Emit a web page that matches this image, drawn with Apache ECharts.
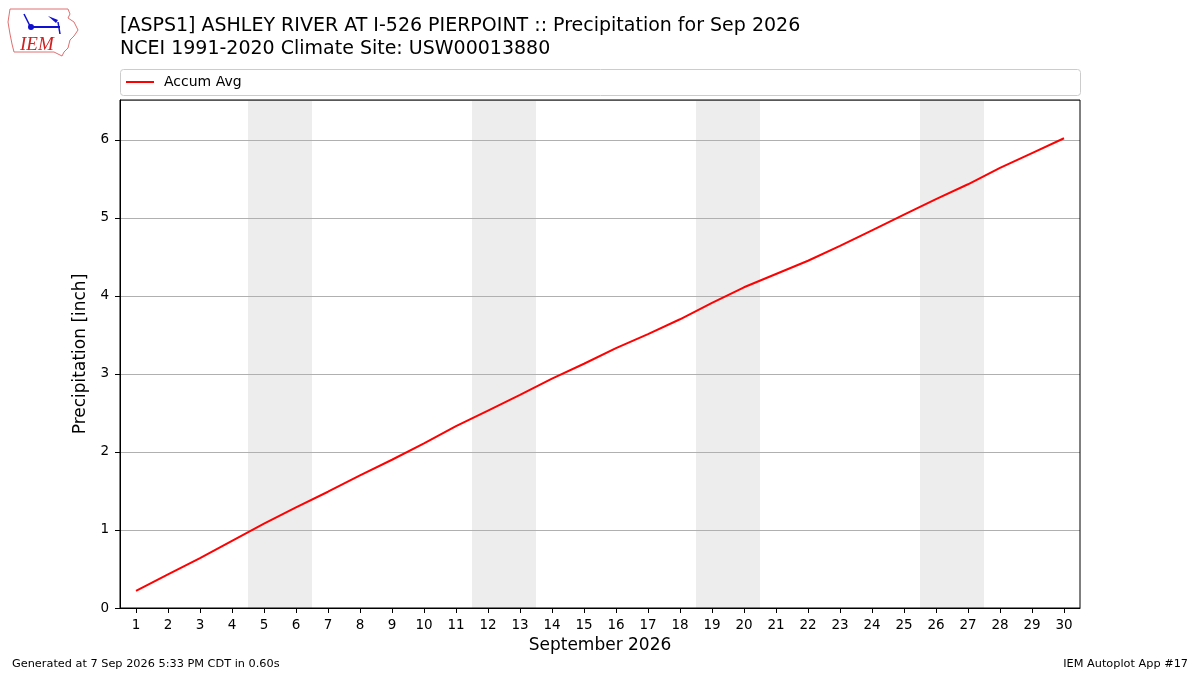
<!DOCTYPE html>
<html>
<head>
<meta charset="utf-8">
<script src="https://cdn.jsdelivr.net/npm/echarts@6/dist/echarts.min.js"></script>
<style>html,body{margin:0;padding:0;background:#fff}#c{width:1200px;height:675px}</style>
</head>
<body>
<div id="c"></div>
<script>
// ---- data ----
const days = [1,2,3,4,5,6,7,8,9,10,11,12,13,14,15,16,17,18,19,20,21,22,23,24,25,26,27,28,29,30];
const accumAvg = [0.22,0.43,0.64,0.86,1.08,1.29,1.49,1.70,1.90,2.11,2.33,2.53,2.73,2.94,3.13,3.33,3.51,3.70,3.91,4.11,4.28,4.45,4.64,4.84,5.04,5.24,5.43,5.64,5.83,6.02];
const weekendDays = [5,6,12,13,19,20,26,27];
const yTicks = [0,1,2,3,4,5,6];
const titleLines = ["[ASPS1] ASHLEY RIVER AT I-526 PIERPOINT :: Precipitation for Sep 2026", "NCEI 1991-2020 Climate Site: USW00013880"];

// weekend pairs -> shaded ranges
const shadeRanges = [];
for (let i = 0; i < weekendDays.length; i += 2) {
  shadeRanges.push([{xAxis: weekendDays[i] - 0.5}, {xAxis: weekendDays[i + 1] + 0.5}]);
}

const FONT = 'DejaVu Sans';
const chart = echarts.init(document.getElementById('c'), null, {renderer: 'canvas'});
chart.setOption({
  animation: false,
  backgroundColor: '#fff',
  textStyle: {fontFamily: FONT},
  title: {
    text: titleLines.join('\n'),
    left: 115, top: 10,
    textStyle: {fontFamily: FONT, fontSize: 19, fontWeight: 'normal', color: '#000', lineHeight: 23}
  },
  legend: {
    left: 121, top: 70,
    icon: 'rect', itemWidth: 28, itemHeight: 2, itemGap: 10,
    textStyle: {fontFamily: FONT, fontSize: 14, color: '#000', padding: [0, 0, 0, 5]},
    data: ['Accum Avg']
  },
  grid: {left: 120, right: 120, top: 100, bottom: 67, show: true, borderColor: '#000', borderWidth: 1, backgroundColor: 'transparent', z: 4},
  xAxis: [
    {
      type: 'category', data: days.map(String), boundaryGap: true, z: 3,
      name: 'September 2026', nameLocation: 'middle', nameGap: 29,
      nameTextStyle: {fontFamily: FONT, fontSize: 17, color: '#000'},
      axisLine: {show: true, lineStyle: {color: '#000'}},
      axisTick: {show: true, alignWithLabel: true, length: 5, lineStyle: {color: '#000'}},
      axisLabel: {fontFamily: FONT, fontSize: 13.5, color: '#000', margin: 10, interval: 0},
      splitLine: {show: false}
    },
    {type: 'value', min: 0.5, max: 30.5, show: false}
  ],
  yAxis: {
    type: 'value', min: 0, max: 6.51, interval: 1, z: 3,
    name: 'Precipitation [inch]', nameLocation: 'middle', nameGap: 24, nameRotate: 90,
    nameTextStyle: {fontFamily: FONT, fontSize: 17, color: '#000'},
    axisLine: {show: true, lineStyle: {color: '#000'}},
    axisTick: {show: true, length: 5, lineStyle: {color: '#000'}},
    axisLabel: {fontFamily: FONT, fontSize: 13.5, color: '#000', margin: 11, showMaxLabel: false,
      formatter: v => (yTicks.indexOf(v) >= 0 ? String(v) : '')},
    splitLine: {show: true, lineStyle: {color: '#b0b0b0', width: 1}}
  },
  series: [
    {
      name: 'weekend', type: 'line', xAxisIndex: 1, data: [], silent: true,
      markArea: {silent: true, itemStyle: {color: '#ededed'}, data: shadeRanges},
      z: 1
    },
    {
      name: 'Accum Avg', type: 'line', xAxisIndex: 0, data: accumAvg,
      symbol: 'none', lineStyle: {color: '#ff0000', width: 2}, itemStyle: {color: '#ff0000'},
      z: 5
    }
  ],
  graphic: [
    {type: 'rect', shape: {x: 120.5, y: 69.5, width: 960, height: 26, r: 3}, style: {fill: 'none', stroke: '#cccccc', lineWidth: 1}, z: -1},
    // logo (decorative)
    {type: 'polyline', shape: {points: [[10,9],[68,9],[70,14],[68,18],[74,22],[78,30],[74,36],[70,40],[68,48],[64,52],[62,56],[54,52],[14,52],[12,44],[10,34],[8,22],[10,9]]},
      style: {fill: 'none', stroke: '#e07070', lineWidth: 1}},
    {type: 'line', shape: {x1: 30, y1: 27, x2: 60, y2: 27}, style: {stroke: '#1010d0', lineWidth: 2}},
    {type: 'circle', shape: {cx: 31, cy: 27, r: 3}, style: {fill: '#1010d0'}},
    {type: 'line', shape: {x1: 24, y1: 14, x2: 30, y2: 26}, style: {stroke: '#1010d0', lineWidth: 1.5}},
    {type: 'polygon', shape: {points: [[48,16],[58,20],[56,23]]}, style: {fill: '#1010d0'}},
    {type: 'line', shape: {x1: 58, y1: 22, x2: 60, y2: 34}, style: {stroke: '#1010d0', lineWidth: 1.5}},
    {type: 'text', left: 20, top: 35, style: {text: 'IEM', font: 'italic 19px "Liberation Serif", serif', fill: '#d02020'}},
    // footer
    {type: 'text', left: 12, top: 659, style: {text: 'Generated at 7 Sep 2026 5:33 PM CDT in 0.60s', font: '11.3px "DejaVu Sans"', fill: '#000'}},
    {type: 'text', right: 12, top: 659, style: {text: 'IEM Autoplot App #17', font: '11.3px "DejaVu Sans"', fill: '#000'}}
  ]
});
</script>
</body>
</html>
